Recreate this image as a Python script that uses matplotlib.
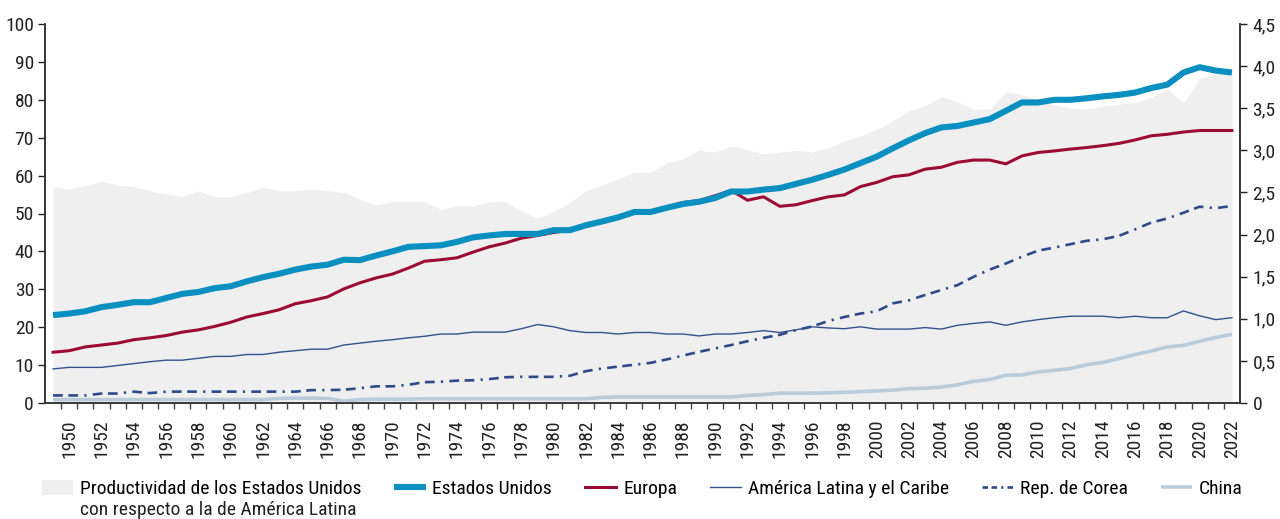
import matplotlib
matplotlib.use("Agg")
import matplotlib.pyplot as plt
from matplotlib import font_manager
from matplotlib.patches import Patch
from matplotlib.lines import Line2D
from matplotlib.ticker import FuncFormatter, FixedLocator

# pick a condensed face if one is installed, else a narrow-ish sans
fs = 13
chosen = None
for fam, size in [("Liberation Sans Narrow", 14), ("Roboto Condensed", 14), ("Roboto", 13)]:
    try:
        font_manager.findfont(font_manager.FontProperties(family=fam), fallback_to_default=False)
        chosen, fs = fam, size
        break
    except Exception:
        pass
plt.rcParams['font.family'] = [chosen or "DejaVu Sans", "DejaVu Sans"]
plt.rcParams['lines.scale_dashes'] = False

# ---- data ----
years = list(range(1949, 2023))

estados_unidos = [23.2, 23.6, 24.2, 25.3, 25.9, 26.6, 26.6, 27.7, 28.8, 29.3, 30.3, 30.8, 32.1, 33.2,
                  34.1, 35.2, 36.0, 36.5, 37.8, 37.7, 38.9, 40.0, 41.2,
                  41.4, 41.6, 42.5, 43.7, 44.2, 44.6, 44.6, 44.6, 45.6, 45.6, 46.9, 47.9, 49.0, 50.4,
                  50.4, 51.5, 52.5, 53.1, 54.1, 55.8, 55.8, 56.3, 56.7, 57.8, 58.9, 60.2,
                  61.6, 63.3, 65.0, 67.2, 69.3, 71.2, 72.7, 73.1, 74.0, 74.9, 77.1, 79.3, 79.3, 80.0,
                  80.0, 80.4, 80.9, 81.3, 81.9, 83.1, 84.0, 87.2, 88.6, 87.7, 87.2]

europa = [13.4, 13.8, 14.8, 15.3, 15.8, 16.7, 17.2, 17.8, 18.7, 19.3, 20.2, 21.3, 22.7, 23.6,
          24.6, 26.2, 27.0, 28.0, 30.1, 31.7, 33.0, 34.0, 35.6,
          37.4, 37.8, 38.3, 39.8, 41.2, 42.2, 43.5, 44.2, 45.0, 45.6, 46.9, 47.9, 48.8, 50.1,
          50.4, 51.7, 52.9, 53.4, 54.7, 56.1, 53.5, 54.4, 51.9, 52.3, 53.4, 54.4,
          54.9, 57.1, 58.2, 59.7, 60.2, 61.7, 62.2, 63.5, 64.1, 64.1, 63.1, 65.2, 66.1, 66.5,
          67.0, 67.4, 67.9, 68.5, 69.4, 70.5, 70.9, 71.5, 71.9, 71.9, 71.9]

america_latina = [9.0, 9.4, 9.4, 9.4, 9.9, 10.4, 10.9, 11.3, 11.3, 11.8, 12.3, 12.3, 12.8, 12.8,
                  13.4, 13.8, 14.2, 14.2, 15.3, 15.8, 16.3, 16.7, 17.2,
                  17.6, 18.2, 18.2, 18.7, 18.7, 18.7, 19.6, 20.7, 20.1, 19.1, 18.6, 18.6, 18.2, 18.6,
                  18.6, 18.2, 18.2, 17.7, 18.2, 18.2, 18.6, 19.1, 18.6, 19.3, 20.1, 19.8,
                  19.6, 20.1, 19.5, 19.5, 19.5, 19.9, 19.5, 20.5, 21.0, 21.4, 20.5, 21.4, 22.0, 22.5,
                  22.9, 22.9, 22.9, 22.5, 22.9, 22.5, 22.5, 24.3, 23.0, 22.0, 22.5]

corea = [2.0, 2.0, 2.0, 2.5, 2.5, 3.0, 2.6, 3.0, 3.0, 3.0, 3.0, 3.0, 3.0, 3.0,
         3.0, 3.0, 3.4, 3.4, 3.5, 3.9, 4.4, 4.4, 4.8,
         5.5, 5.6, 5.9, 6.0, 6.3, 6.8, 6.9, 6.9, 6.9, 7.2, 8.4, 9.1, 9.6, 10.1,
         10.6, 11.5, 12.5, 13.5, 14.4, 15.3, 16.3, 17.2, 18.0, 19.2, 20.2, 21.6,
         22.7, 23.6, 24.2, 26.3, 27.1, 28.5, 29.8, 31.1, 33.3, 35.2, 36.8, 38.6, 40.2, 41.0,
         41.9, 42.8, 43.2, 44.1, 45.8, 47.6, 48.7, 50.2, 51.8, 51.4, 52.0]

china = [0.9, 0.9, 0.9, 0.9, 0.9, 0.9, 0.9, 0.9, 0.9, 0.9, 0.9, 0.9, 0.9, 0.9,
         1.2, 1.3, 1.3, 1.2, 0.5, 0.9, 1.0, 1.0, 1.0,
         1.1, 1.1, 1.1, 1.1, 1.1, 1.1, 1.1, 1.1, 1.1, 1.1, 1.1, 1.5, 1.6, 1.6,
         1.6, 1.6, 1.6, 1.6, 1.6, 1.6, 2.0, 2.2, 2.6, 2.6, 2.6, 2.7,
         2.8, 3.0, 3.2, 3.4, 3.8, 3.9, 4.2, 4.8, 5.7, 6.2, 7.3, 7.4, 8.2, 8.6,
         9.1, 10.1, 10.7, 11.7, 12.8, 13.7, 14.8, 15.2, 16.3, 17.3, 18.1]

# US productivity relative to Latin America (right axis)
ratio_eeuu_al = [2.57, 2.54, 2.58, 2.63, 2.59, 2.57, 2.52, 2.48, 2.45, 2.52, 2.45, 2.45, 2.50, 2.56,
                 2.52, 2.52, 2.54, 2.52, 2.50, 2.42, 2.35, 2.39, 2.39,
                 2.39, 2.30, 2.34, 2.34, 2.39, 2.39, 2.28, 2.19, 2.28, 2.38, 2.52, 2.59, 2.66, 2.74,
                 2.74, 2.85, 2.90, 3.00, 2.98, 3.05, 3.01, 2.96, 2.98, 3.00, 2.98, 3.03,
                 3.11, 3.17, 3.25, 3.35, 3.47, 3.53, 3.64, 3.58, 3.49, 3.49, 3.70, 3.66, 3.60, 3.54,
                 3.50, 3.49, 3.52, 3.55, 3.57, 3.63, 3.73, 3.56, 3.85, 3.91, 3.94]

year_labels = list(range(1950, 2023, 2))

c_fill = "#efefef"
c_us = "#0a8fc1"
c_eu = "#9b0b33"
c_al = "#34508f"
c_kr = "#2f4a88"
c_cn = "#bccbd8"
kr_dash = (0, (7, 4, 7, 4.5, 1.6, 4.5))

fig = plt.figure(figsize=(12.8, 5.19), dpi=100)
ax = fig.add_axes([45/1280, 1 - 403/519, (1240 - 45)/1280, (403 - 24)/519])
ax2 = ax.twinx()
ax.set_zorder(ax2.get_zorder() + 1)
ax.patch.set_visible(False)

ax2.fill_between(years, 0, ratio_eeuu_al, color=c_fill, lw=0)
ax.plot(years, china, color=c_cn, lw=2.6, solid_capstyle='butt')
ax.plot(years, corea, color=c_kr, lw=1.9, linestyle=kr_dash)
ax.plot(years, america_latina, color=c_al, lw=1.0)
ax.plot(years, europa, color=c_eu, lw=2.2)
ax.plot(years, estados_unidos, color=c_us, lw=4.4, solid_capstyle='butt')

ax.set_xlim(years[0] - 0.5, years[-1] + 0.5)
ax.set_ylim(0, 100)
ax2.set_ylim(0, 4.5)

ax.set_yticks(range(0, 101, 10))
ax2.set_yticks([i * 0.5 for i in range(10)])
ax2.yaxis.set_major_formatter(FuncFormatter(lambda v, p: "0" if v == 0 else f"{v:.1f}".replace(".", ",")))

ax.set_xticks(year_labels)
ax.set_xticklabels([str(y) for y in year_labels], rotation=90, fontsize=fs)
ax.xaxis.set_minor_locator(FixedLocator([y + 0.5 for y in years[:-1]]))
ax.tick_params(axis='x', which='major', length=0, pad=12)
ax.tick_params(axis='x', which='minor', length=4.5, width=1, color="#444444")
ax.tick_params(axis='y', which='major', length=5, width=1, labelsize=fs, pad=3, colors="#222222")
ax2.tick_params(axis='y', which='major', length=5, width=1, labelsize=fs, pad=4, colors="#222222")
ax.tick_params(axis='x', colors="#222222")

for a in (ax, ax2):
    a.spines['top'].set_visible(False)
    for s in ('left', 'right', 'bottom'):
        a.spines[s].set_color("#333333")
        a.spines[s].set_linewidth(1.1)

handles = [
    Patch(facecolor=c_fill, edgecolor='none'),
    Line2D([], [], color=c_us, lw=4.4, solid_capstyle='butt'),
    Line2D([], [], color=c_eu, lw=2.2),
    Line2D([], [], color=c_al, lw=1.0),
    Line2D([], [], color=c_kr, lw=1.9, linestyle=(0, (4, 2.5, 4, 3, 1.5, 3))),
    Line2D([], [], color=c_cn, lw=2.6, solid_capstyle='butt'),
]
labels = ["Productividad de los Estados Unidos",
          "Estados Unidos", "Europa", "América Latina y el Caribe", "Rep. de Corea", "China"]
leg = fig.legend(handles, labels, loc='upper left', bbox_to_anchor=(42/1280, 1 - 480/519),
                 ncol=6, frameon=False, fontsize=fs, handlelength=1.6, handleheight=0.8,
                 handletextpad=0.35, columnspacing=1.7, borderpad=0, borderaxespad=0)

# second line of the first legend label, set right under the first line
fig.canvas.draw()
bb = leg.get_texts()[0].get_window_extent()
fig.text(bb.x0 / 1280, (bb.y0 - 21) / 519, "con respecto a la de América Latina",
         fontsize=fs, ha='left', va='bottom', color="#222222")

fig.savefig("out.png", dpi=100)
